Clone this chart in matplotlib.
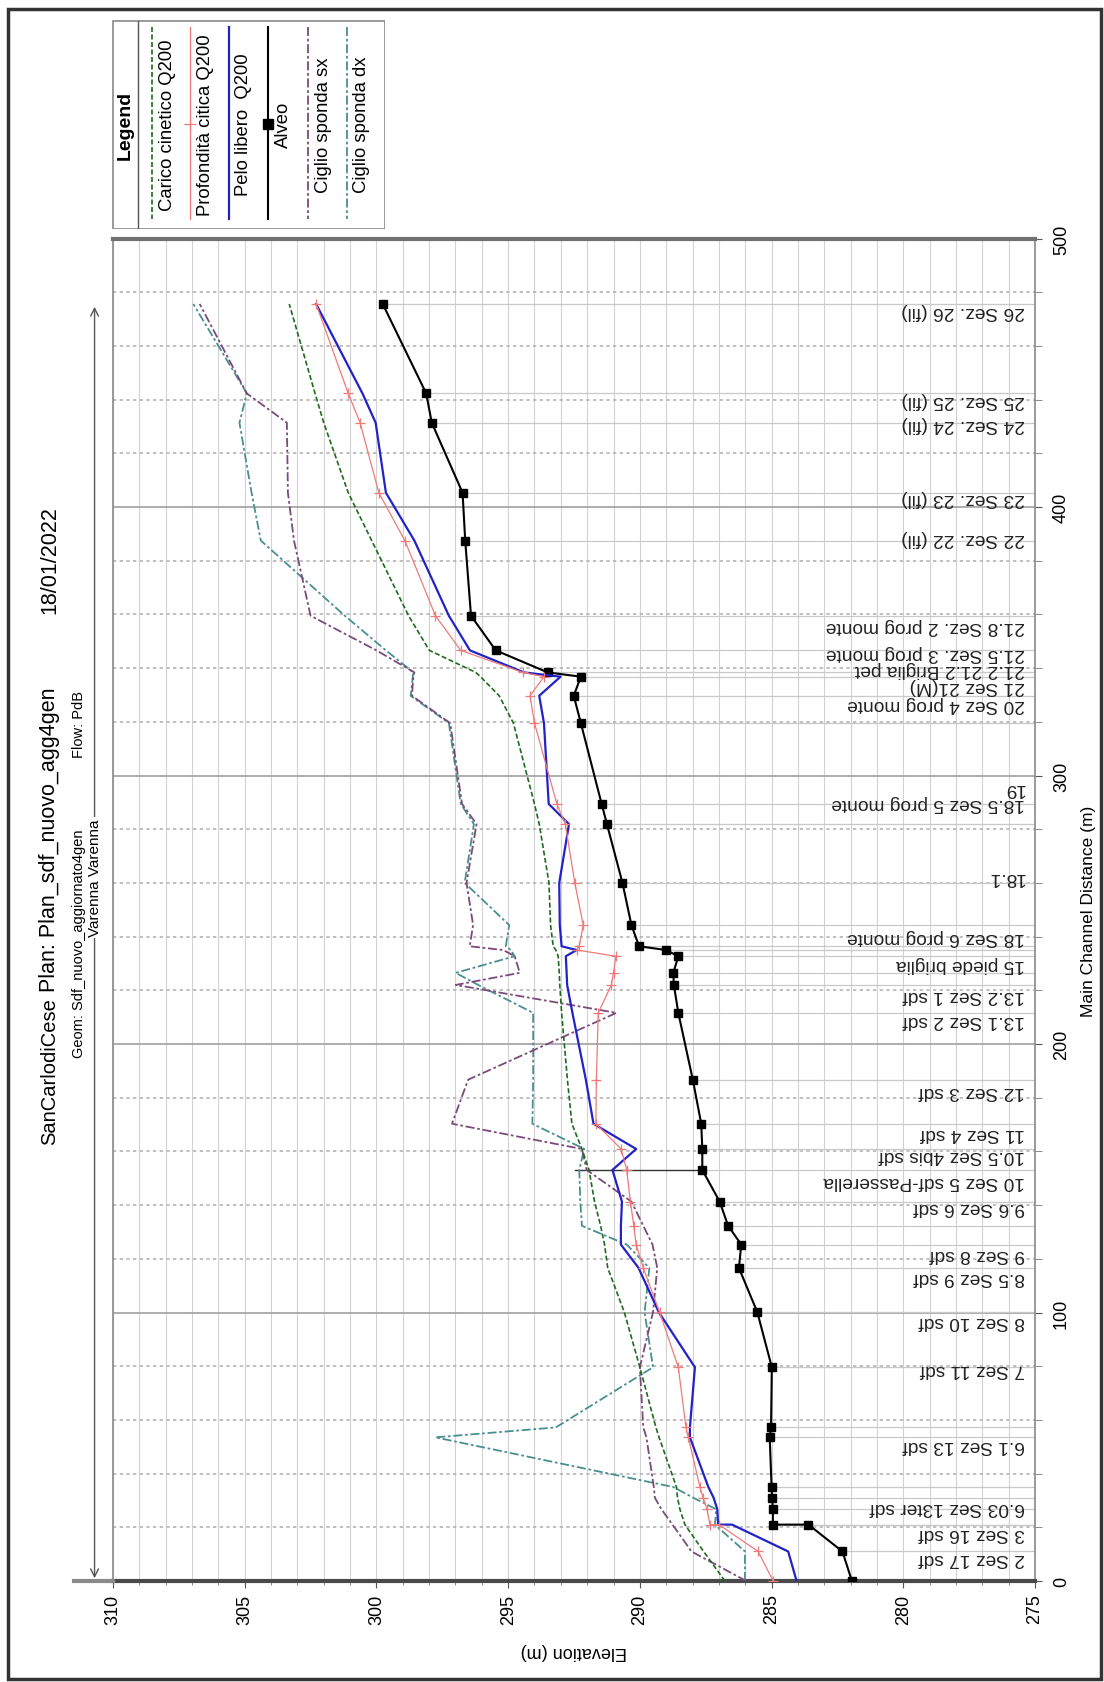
import numpy as np
import pandas as pd
import matplotlib
matplotlib.use("Agg")
import matplotlib.pyplot as plt
from matplotlib.patches import Rectangle
from matplotlib.lines import Line2D

plt.rcParams['font.family'] = ['Liberation Sans', 'DejaVu Sans']

# progressive delle sezioni (m) e quote (m s.l.m.)
progressiva = [0, 11, 21, 21, 26.7, 31, 35, 53.5, 57.2, 79.6,
               100.1, 116.6, 125.3, 132.3, 141.3, 153.1, 160.9, 170.3, 186.7, 211.6,
               222, 226.5, 232.7, 235, 236.4, 244.3, 260, 281.9, 289.4, 319.5,
               329.7, 336.8, 338.4, 346.6, 359.5, 387.5, 405.3, 431.4, 442.3, 475.6]
alveo = [281.95, 282.31, 283.6, 284.95, 284.95, 284.98, 285.0, 285.07, 285.02, 284.99,
         285.54, 286.24, 286.15, 286.65, 286.97, 287.63, 287.63, 287.67, 287.99, 288.54,
         288.71, 288.73, 288.54, 289.01, 290.03, 290.32, 290.66, 291.25, 291.45, 292.24,
         292.51, 292.24, 293.5, 295.47, 296.41, 296.63, 296.73, 297.9, 298.11, 299.76]
pelo_libero = [284.05, 284.37, 286.5, 287.03, 287.06, 287.2, 287.4, 288.1, 288.1, 287.91,
               289.28, 290.05, 290.72, 290.72, 290.68, 291.04, 290.14, 291.76, 292.05, 292.56,
               292.76, 292.78, 292.81, 292.4, 292.97, 293.04, 293.06, 292.69, 293.46, 293.64,
               293.82, 293.01, 294.4, 296.45, 297.25, 298.56, 299.64, 300.03, 300.53, 302.29]
profondita_critica = [284.94, 285.51, 287.0, 287.34, 287.45, 287.6, 287.72, 288.16, 288.25, 288.54,
                      289.25, 289.87, 290.14, 290.23, 290.36, 290.5, 290.71, 291.67, 291.65, 291.58,
                      291.08, 291.0, 290.91, 292.4, 292.3, 292.15, 292.47, 292.83, 293.15, 294.0,
                      294.17, 293.64, 294.44, 296.8, 297.76, 298.92, 299.91, 300.62, 301.07, 302.29]
carico_cinetico = [286.77, 287.58, 288.29, 288.29, 288.48, 288.57, 288.61, 289.27, 289.39, 290.0,
                   290.59, 291.22, 291.34, 291.49, 291.72, 291.93, 292.2, 292.58, 292.75, 292.97,
                   293.04, 293.06, 293.1, 293.19, 293.29, 293.39, 293.45, 293.82, 294.0, 294.8,
                   295.34, 296.05, 296.23, 297.99, 298.78, 300.18, 301.07, 302.0, 302.33, 303.31]
sponda_sx = [285.96, 288.04, 288.76, 288.76, 289.18, 289.43, 289.47, 289.75, 289.87, 290.0,
             289.5, 289.34, 289.52, 289.87, 290.32, 292.02, 292.2, 297.13, 296.52, 290.89,
             296.99, 294.56, 294.75, 295.19, 296.46, 296.33, 296.58, 296.2, 296.75, 297.2,
             298.65, 298.6, 298.56, 300.0, 302.5, 303.13, 303.36, 303.4, 304.92, 306.71]
sponda_dx = [286.01, 286.01, 287.15, 287.15, 287.1, 287.97, 288.73, 297.76, 293.19, 289.5,
             289.82, 289.64, 290.5, 292.2, 292.26, 292.3, 292.11, 294.08, 294.05, 294.05,
             296.14, 296.99, 294.75, 294.9, 295.09, 294.96, 296.65, 296.3, 296.8, 297.25,
             298.7, 298.62, 298.6, 299.64, 301.2, 304.39, 304.74, 305.2, 304.92, 306.95]

# passerella alla sezione 10
passerella_prog = 153.1
passerella_quota = 292.47

sezioni_nomi = ["2 Sez 17 sdf", "3 Sez 16 sdf", "6.03 Sez 13ter sdf", "6.1 Sez 13 sdf",
                "7 Sez 11 sdf", "8 Sez 10 sdf", "8.5 Sez 9 sdf", "9 Sez 8 sdf", "9.6 Sez 6 sdf",
                "10 Sez 5 sdf-Passerella", "10.5 Sez 4bis sdf", "11 Sez 4 sdf", "12 Sez 3 sdf",
                "13.1 Sez 2 sdf", "13.2 Sez 1 sdf", "15 piede briglia", "18 Sez 6 prog monte",
                "18.1", "18.5 Sez 5 prog monte", "19", "20 Sez 4 prog monte", "21 Sez 21(M)",
                "21.2 21.2 Briglia pet", "21.5 Sez. 3 prog monte", "21.8 Sez. 2 prog monte",
                "22 Sez. 22 (fil)", "23 Sez. 23 (fil)", "24 Sez. 24 (fil)", "25 Sez. 25 (fil)",
                "26 Sez. 26 (fil)"]
sezioni_pos = [8.7, 17.9, 27.9, 50.8, 79.1, 96.9, 113.5, 121.8, 139.3, 149.2, 158.9, 167.2,
               182.5, 209.1, 218.6, 229.9, 239.9, 262.5, 289.9, 295.7, 326.8, 333.6, 339.8,
               345.9, 355.9, 388.8, 403.4, 431.2, 440.0, 473.1]

df = pd.DataFrame({
    "prog": progressiva,
    "alveo": alveo,
    "pelo": pelo_libero,
    "critica": profondita_critica,
    "carico": carico_cinetico,
    "sx": sponda_sx,
    "dx": sponda_dx,
})

serie = [
    ("carico", "Carico cinetico Q200", dict(color="#1e6b1e", lw=1.2, ls=(0, (3, 1.5)))),
    ("critica", "Profondità citica Q200", dict(color="#f07a7a", lw=0.9, marker="+", ms=7, mew=0.9)),
    ("pelo", "Pelo libero  Q200", dict(color="#2222c8", lw=1.6)),
    ("alveo", "Alveo", dict(color="black", lw=1.5, marker="s", ms=5.5)),
    ("sx", "Ciglio sponda sx", dict(color="#7a4a7a", lw=1.3, ls=(0, (5, 1.5, 1.5, 1.5)))),
    ("dx", "Ciglio sponda dx", dict(color="#4a8f8f", lw=1.3, ls=(0, (5, 1.5, 1.5, 1.5)))),
]

W, H = 1104, 1683
fig = plt.figure(figsize=(W / 100, H / 100), dpi=100)


def fx(px):
    return px / W


def fy(py):
    return 1 - py / H


ax = fig.add_axes([fx(113), fy(1582), fx(1035) - fx(113), fy(239.5) - fy(1582)])
ax.set_xlim(310, 275)
ax.set_ylim(0, 500)

# griglia
ax.set_xticks(np.arange(275, 311, 5))
ax.set_xticks(np.arange(275, 311, 1), minor=True)
ax.set_yticks(np.arange(0, 501, 100))
ax.set_yticks(np.arange(0, 501, 20), minor=True)
ax.grid(which="both", axis="x", color="#d2d2d2", lw=0.8)
ax.grid(which="minor", axis="y", color="#b4b4b4", lw=1.2, ls=(0, (2, 2)))
ax.grid(which="major", axis="y", color="#a0a0a0", lw=1.2)
ax.set_axisbelow(True)

ax.yaxis.tick_right()
ax.tick_params(axis="x", which="major", direction="out", length=5, color="#555555",
               labelsize=13, pad=4, labelrotation=90)
ax.tick_params(axis="x", which="minor", direction="out", length=3, color="#777777")
ax.tick_params(axis="y", which="major", direction="out", length=5, color="#555555",
               labelsize=13, pad=8, labelrotation=90)
ax.tick_params(axis="y", which="minor", direction="out", length=5, color="#777777")
for lbl in ax.get_xticklabels():
    lbl.set_va("top")
    lbl.set_ha("center")
for lbl in ax.get_yticklabels():
    lbl.set_va("center")

for side in ["left", "right"]:
    ax.spines[side].set_color("#8a8a8a")
    ax.spines[side].set_linewidth(1.2)
ax.spines["top"].set_color("#707070")
ax.spines["top"].set_linewidth(3)
ax.spines["bottom"].set_color("#4a4a4a")
ax.spines["bottom"].set_linewidth(3)

# prolungamento dell'asse di base fino alla freccia
fig.lines.append(Line2D([fx(74), fx(113)], [fy(1582), fy(1582)], transform=fig.transFigure,
                        color="#8a8a8a", lw=3))

# linee di richiamo delle sezioni
for p, q in zip(df["prog"], df["alveo"]):
    ax.plot([q, 275], [p, p], color="#c9c9c9", lw=0.9, zorder=1)

for nome, pos in zip(sezioni_nomi, sezioni_pos):
    ax.text(275.38, pos, nome, rotation=180, ha="right", va="center", fontsize=13.8,
            color="#222222", zorder=2)

# passerella
q_pass = df.loc[df["prog"] == passerella_prog, "alveo"].iloc[0]
ax.plot([q_pass, passerella_quota], [passerella_prog, passerella_prog],
        color="#333333", lw=1.0, zorder=3)

for col, nome, stile in serie[::-1]:
    ax.plot(df[col], df["prog"], zorder=4, **stile)

# freccia del tratto
x_freccia = 310.7
ax.annotate("", xy=(x_freccia, df["prog"].iloc[-1]), xytext=(x_freccia, 0),
            arrowprops=dict(arrowstyle="<->", color="#555555", lw=1.0, mutation_scale=14),
            annotation_clip=False)
ax.text(x_freccia, 262, "Varenna Varenna", rotation=90, ha="center", va="center",
        fontsize=11, clip_on=False, bbox=dict(facecolor="white", edgecolor="none", pad=1.5))

# titoli
fig.text(fx(50), fy(1072), "SanCarlodiCese", rotation=90, ha="center", va="center", fontsize=14.5)
fig.text(fx(50), fy(840), "Plan: Plan_sdf_nuovo_agg4gen", rotation=90, ha="center", va="center", fontsize=15.5)
fig.text(fx(50), fy(560), "18/01/2022", rotation=90, ha="center", va="center", fontsize=15.5)
fig.text(fx(79), fy(944), "Geom: Sdf_nuovo_aggiornato4gen", rotation=90, ha="center", va="center", fontsize=10.5)
fig.text(fx(79), fy(724), "Flow: PdB", rotation=90, ha="center", va="center", fontsize=10.5)

fig.text(fx(574), fy(1652), "Elevation (m)", rotation=180, ha="center", va="center", fontsize=13)
fig.text(fx(1089), fy(911), "Main Channel Distance (m)", rotation=90, ha="center", va="center", fontsize=12.5)

# legenda
lax = fig.add_axes([fx(112), fy(230), fx(385) - fx(112), fy(21) - fy(230)])
lax.set_xlim(0, 273)
lax.set_ylim(209, 0)
lax.axis("off")
lax.add_patch(Rectangle((0.5, 0.5), 272, 208, facecolor="white", edgecolor="#8a8a8a", lw=1.2))
lax.plot([26, 26], [0.5, 208.5], color="#555555", lw=1.0)
lax.text(13, 104, "Legend", rotation=90, ha="center", va="center", fontsize=14, fontweight="bold")
x_linee = [40, 78, 117, 156, 196, 235]
for (col, nome, stile), xl in zip(serie, x_linee):
    linea = {k: v for k, v in stile.items() if k not in ("marker", "ms", "mew")}
    lax.plot([xl, xl], [7, 199], **linea)
    if "marker" in stile:
        lax.plot([xl], [104], marker=stile["marker"], ms=stile["ms"] + 1.5,
                 mew=stile.get("mew", 1), color=stile["color"], ls="none")
    lax.text(xl + 15, 104, nome, rotation=90, ha="center", va="center", fontsize=13.3)

# cornice esterna
fig.patches.append(Rectangle((fx(8), fy(1680)), fx(1101) - fx(8), fy(10) - fy(1680),
                             transform=fig.transFigure, fill=False, edgecolor="#333333", lw=2.5))

fig.savefig("out.png", dpi=100)
